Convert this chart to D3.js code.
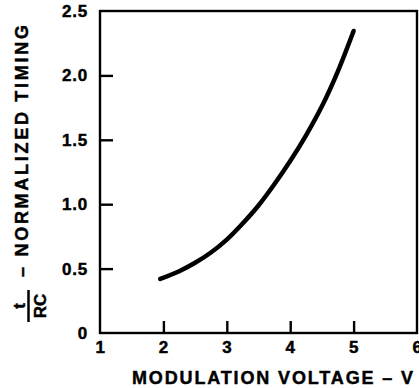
<!DOCTYPE html>
<html><head><meta charset="utf-8">
<script src="https://cdn.jsdelivr.net/npm/d3@7/dist/d3.min.js"></script>
<style>
html,body{margin:0;padding:0;background:#fff;}
svg{display:block;}
text{font-family:"Liberation Sans",Arial,Helvetica,sans-serif;font-weight:bold;fill:#000;stroke:#000;stroke-width:0.45px;}
</style></head>
<body>
<script>
// Data
const voltage = [1.95, 2.25, 2.5, 2.75, 3.0, 3.25, 3.5, 3.75, 4.0, 4.25, 4.5, 4.75, 5.0];
const timing  = [0.42, 0.48, 0.545, 0.625, 0.725, 0.85, 0.99, 1.155, 1.335, 1.535, 1.76, 2.03, 2.345];
const xTicks = [2, 3, 4, 5];
const xTickLabels = [1, 2, 3, 4, 5, 6];
const yTicks = [0.5, 1.0, 1.5, 2.0];
const yTickLabels = [0, 0.5, 1.0, 1.5, 2.0, 2.5];
const xTitle = "MODULATION VOLTAGE – V";
const yTitle = "– NORMALIZED TIMING";

const W = 419, H = 388;
const svg = d3.select("body").append("svg").attr("width", W).attr("height", H);

const x = d3.scaleLinear().domain([1, 6]).range([100, 417]);
const y = d3.scaleLinear().domain([0, 2.5]).range([333, 11]);

// Frame
svg.append("rect")
  .attr("x", x(1)).attr("y", y(2.5))
  .attr("width", x(6) - x(1)).attr("height", y(0) - y(2.5))
  .attr("fill", "none").attr("stroke", "#000").attr("stroke-width", 2.4);

// Inward ticks
const xAxisTicks = svg.append("g").attr("transform", `translate(0,${y(0)})`)
  .call(d3.axisBottom(x).tickValues(xTicks).tickSize(-12).tickFormat(""));
const yAxisTicks = svg.append("g").attr("transform", `translate(${x(1)},0)`)
  .call(d3.axisLeft(y).tickValues(yTicks).tickSize(-13).tickFormat(""));
[xAxisTicks, yAxisTicks].forEach(g => {
  g.select(".domain").remove();
  g.selectAll("line").attr("stroke", "#000").attr("stroke-width", 2.4);
});

// Tick labels
const xLab = svg.append("g").attr("transform", `translate(0,${y(0)})`)
  .call(d3.axisBottom(x).tickValues(xTickLabels).tickSize(0).tickPadding(8).tickFormat(d3.format("d")));
const yLab = svg.append("g").attr("transform", `translate(${x(1)},0)`)
  .call(d3.axisLeft(y).tickValues(yTickLabels).tickSize(0).tickPadding(12)
    .tickFormat(d => d === 0 ? "0" : d3.format(".1f")(d)));
[xLab, yLab].forEach(g => {
  g.select(".domain").remove();
  g.selectAll("text").attr("font-size", 17).attr("font-family", null).attr("fill", "#000")
    .attr("letter-spacing", 0.8);
});

// Curve
const line = d3.line().x((d, i) => x(voltage[i])).y(d => y(d)).curve(d3.curveCatmullRom);
svg.append("path").datum(timing)
  .attr("d", line)
  .attr("fill", "none").attr("stroke", "#000")
  .attr("stroke-width", 4.5).attr("stroke-linecap", "round");

// X title
svg.append("text")
  .attr("x", 132).attr("y", 384)
  .attr("font-size", 18)
  .attr("textLength", 281).attr("lengthAdjust", "spacing")
  .text(xTitle);

// Y title (rotated)
svg.append("text")
  .attr("transform", "translate(28,277) rotate(-90)")
  .attr("font-size", 18)
  .attr("textLength", 252).attr("lengthAdjust", "spacing")
  .text(yTitle);

// Fraction t / RC
svg.append("text")
  .attr("transform", "translate(25,306) rotate(-90)")
  .attr("font-size", 17).attr("text-anchor", "middle")
  .text("t");
svg.append("line")
  .attr("x1", 28.5).attr("x2", 28.5).attr("y1", 290).attr("y2", 322)
  .attr("stroke", "#000").attr("stroke-width", 2.5);
svg.append("text")
  .attr("transform", "translate(46,306) rotate(-90)")
  .attr("font-size", 17).attr("text-anchor", "middle")
  .text("RC");
</script>
</body></html>
